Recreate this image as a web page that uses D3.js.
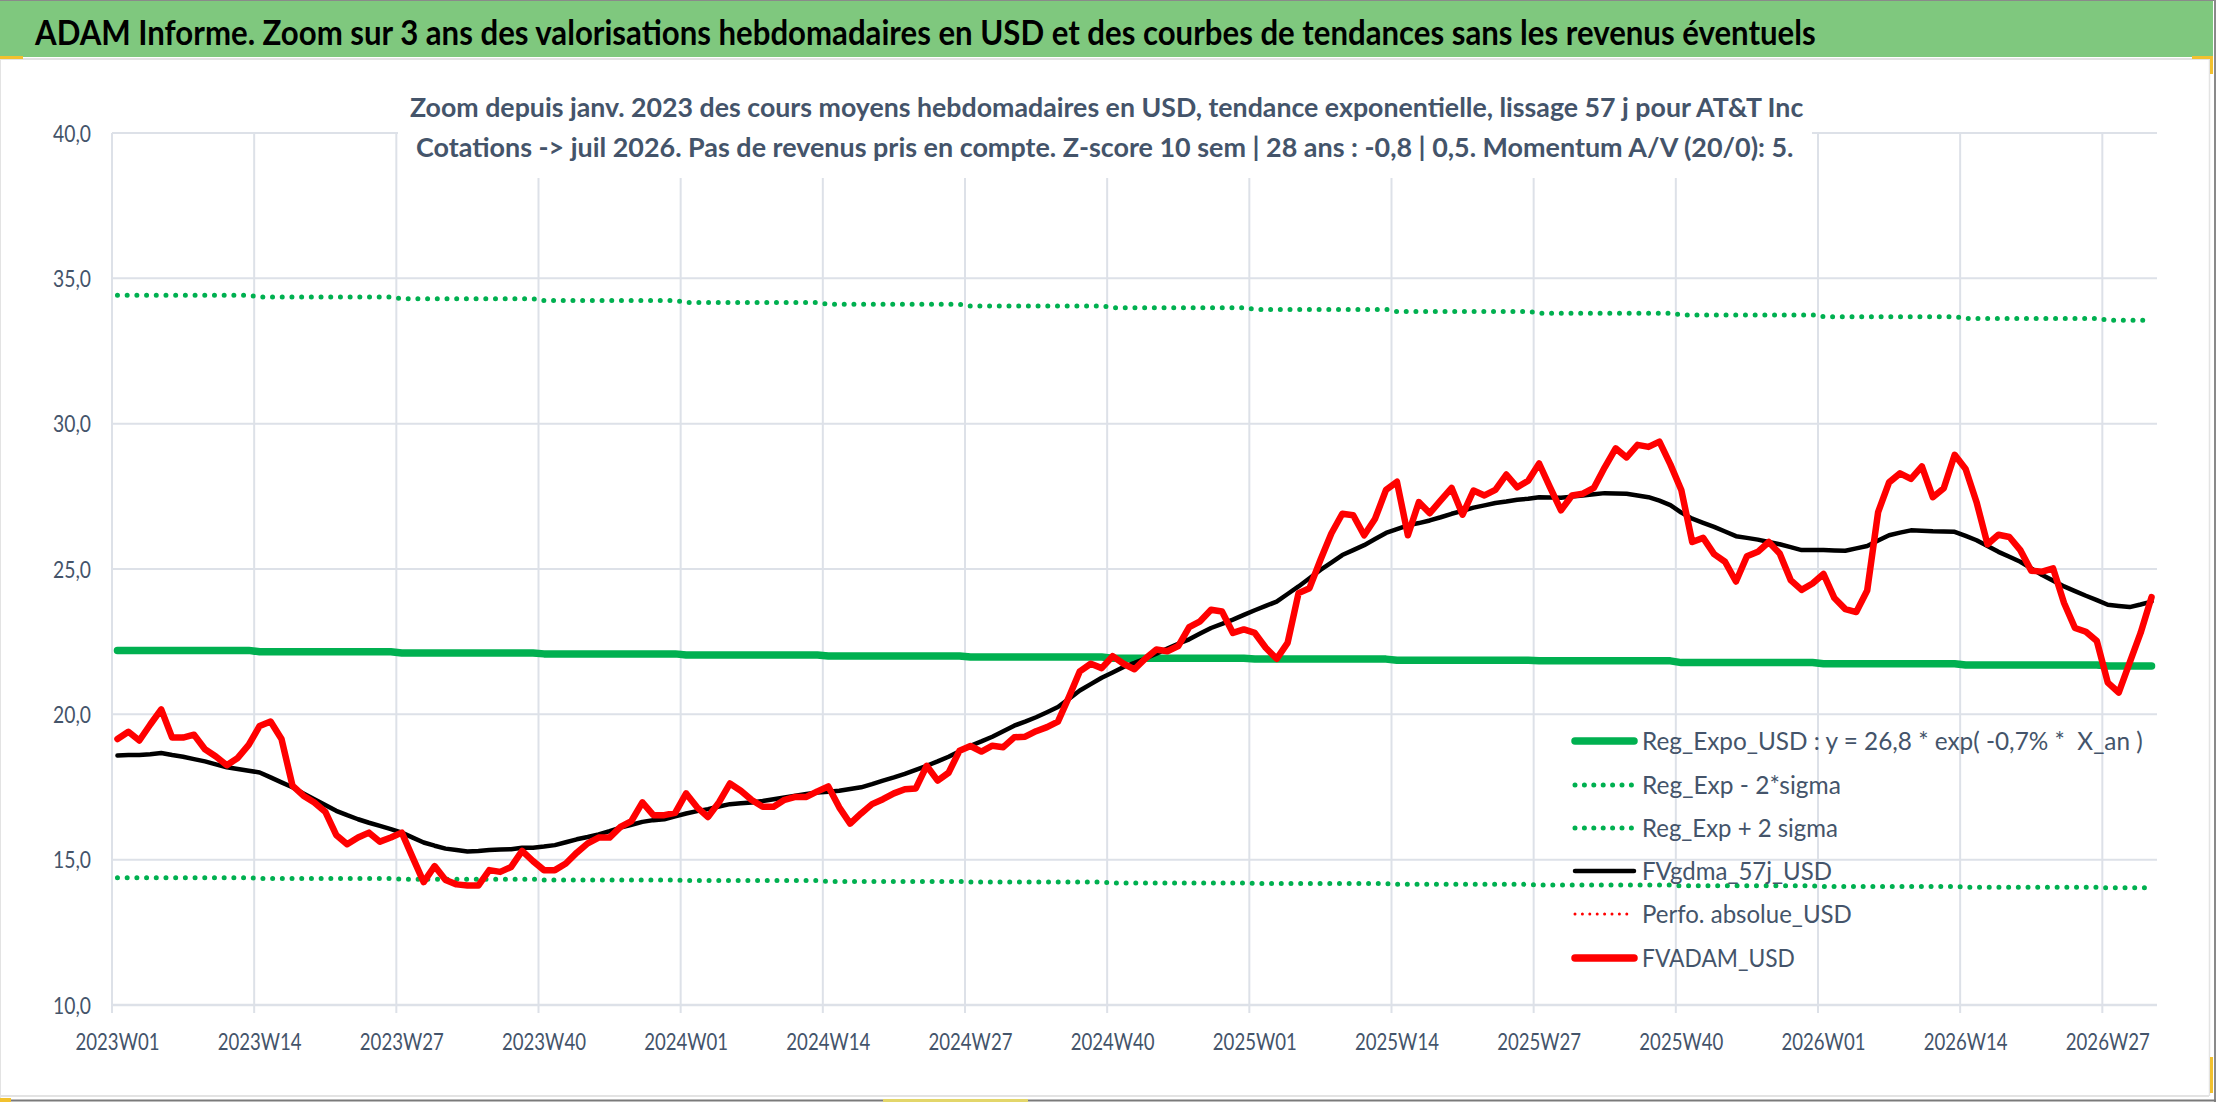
<!DOCTYPE html>
<html><head><meta charset="utf-8">
<script src="https://cdn.jsdelivr.net/npm/d3@7"></script>
<style>
html,body{margin:0;padding:0;background:#fff;overflow:hidden}
svg{display:block}
</style></head><body>
<svg id="chart" width="2216" height="1102"></svg>
<script>
// ---------- DATA ----------
const weekYears = [2023, 2024, 2025, 2026];
const weeksInYear = [52, 52, 52, 31];
const categories = [];
weekYears.forEach((yr, k) => { for (let w = 1; w <= weeksInYear[k]; w++) categories.push(yr + "W" + String(w).padStart(2, "0")); });

const tickLabels = ["2023W01","2023W14","2023W27","2023W40","2024W01","2024W14","2024W27","2024W40",
  "2025W01","2025W14","2025W27","2025W40","2026W01","2026W14","2026W27"];
const yTicks = [10, 15, 20, 25, 30, 35, 40];

// FVADAM_USD (weekly)
const fvadam = [
  19.15,19.4,19.1,19.65,20.17,19.2,19.2,19.3,18.8,18.55,
  18.25,18.5,18.95,19.6,19.75,19.15,17.55,17.2,16.97,16.65,
  15.85,15.53,15.76,15.93,15.62,15.76,15.93,15.07,14.23,14.78,
  14.3,14.15,14.11,14.11,14.64,14.58,14.75,15.3,14.95,14.64,
  14.64,14.87,15.24,15.56,15.76,15.76,16.13,16.33,16.97,16.53,
  16.53,16.61,17.28,16.8,16.47,16.97,17.62,17.37,17.05,16.82,
  16.82,17.06,17.16,17.16,17.35,17.52,16.8,16.24,16.59,16.91,
  17.08,17.28,17.42,17.45,18.23,17.72,17.99,18.75,18.91,18.72,
  18.92,18.87,19.21,19.23,19.42,19.56,19.75,20.59,21.48,21.74,
  21.59,22.0,21.74,21.55,21.92,22.23,22.17,22.35,23.0,23.2,
  23.6,23.54,22.8,22.92,22.8,22.29,21.91,22.46,24.17,24.34,
  25.31,26.22,26.9,26.85,26.16,26.73,27.72,28.0,26.16,27.3,
  26.92,27.36,27.79,26.87,27.7,27.53,27.72,28.25,27.81,28.04,
  28.63,27.81,27.02,27.53,27.59,27.79,28.5,29.15,28.84,29.27,
  29.2,29.38,28.6,27.72,25.93,26.07,25.51,25.25,24.57,25.44,
  25.59,25.93,25.53,24.62,24.28,24.5,24.83,24.0,23.62,23.52,
  24.26,26.96,27.98,28.29,28.1,28.53,27.47,27.78,28.93,28.44,
  27.3,25.85,26.18,26.1,25.65,24.94,24.91,25.02,23.83,22.97,
  22.84,22.52,21.09,20.75,21.78,22.8,24.03
];
// FVgdma_57j_USD (weekly)
const fvgdma = [
  18.58,18.6,18.6,18.63,18.67,18.6,18.54,18.46,18.38,18.28,
  18.18,18.12,18.06,18.0,17.83,17.66,17.49,17.28,17.08,16.88,
  16.68,16.53,16.39,16.27,16.16,16.05,15.93,15.76,15.59,15.48,
  15.38,15.33,15.28,15.3,15.33,15.35,15.36,15.41,15.41,15.45,
  15.5,15.6,15.7,15.78,15.87,15.98,16.1,16.2,16.3,16.36,
  16.39,16.49,16.59,16.67,16.74,16.83,16.91,16.94,16.97,17.02,
  17.08,17.14,17.2,17.26,17.31,17.34,17.37,17.43,17.49,17.6,
  17.72,17.83,17.95,18.09,18.23,18.38,18.54,18.73,18.92,19.07,
  19.23,19.42,19.61,19.75,19.9,20.07,20.25,20.53,20.82,21.04,
  21.26,21.44,21.63,21.77,21.92,22.09,22.26,22.43,22.58,22.78,
  22.97,23.11,23.26,23.42,23.58,23.73,23.88,24.14,24.4,24.68,
  24.97,25.22,25.48,25.65,25.82,26.03,26.24,26.37,26.5,26.58,
  26.67,26.78,26.9,27.0,27.11,27.19,27.27,27.32,27.38,27.42,
  27.47,27.46,27.45,27.49,27.53,27.57,27.61,27.6,27.59,27.53,
  27.47,27.35,27.2,26.94,26.73,26.59,26.45,26.29,26.13,26.07,
  26.01,25.93,25.85,25.75,25.65,25.65,25.65,25.64,25.63,25.71,
  25.79,25.98,26.16,26.25,26.33,26.32,26.3,26.29,26.28,26.14,
  25.99,25.79,25.59,25.42,25.25,25.02,24.79,24.6,24.4,24.24,
  24.08,23.93,23.77,23.73,23.69,23.78,23.88
];
// Regression curves, one value per 13-week block (15 blocks)
const regExpo  = [22.20,22.15,22.11,22.08,22.04,22.01,21.97,21.93,21.90,21.86,21.84,21.78,21.74,21.70,21.66];
const regMinus = [14.38,14.35,14.33,14.30,14.28,14.25,14.23,14.20,14.18,14.15,14.13,14.10,14.08,14.05,14.03];
const regPlus  = [34.42,34.36,34.30,34.24,34.17,34.11,34.05,33.99,33.93,33.86,33.80,33.74,33.68,33.62,33.56];
const perfoAbsolue = []; // not visible in the zoomed window

const legendLabels = ["Reg_Expo_USD : y = 26,8 * exp( -0,7% *  X_an )","Reg_Exp - 2*sigma","Reg_Exp + 2 sigma",
  "FVgdma_57j_USD","Perfo. absolue_USD","FVADAM_USD"];
const titleText = "ADAM Informe. Zoom sur 3 ans des valorisations hebdomadaires en USD et des courbes de tendances sans les revenus éventuels";
const subTitle1 = "Zoom depuis janv. 2023 des cours moyens hebdomadaires en USD, tendance exponentielle, lissage 57 j pour AT&T Inc";
const subTitle2 = "Cotations -> juil 2026. Pas de revenus pris en compte. Z-score 10 sem | 28 ans : -0,8 | 0,5. Momentum A/V (20/0): 5.";

// ---------- DRAW ----------
const FONT = "Lato,'Open Sans','Liberation Sans',sans-serif";
const TXT = "#44546A";
const GRID = "#DDE1E8";
const svg = d3.select("#chart");
const L = 112, R = 2157, T = 133, B = 1005;

const x = d3.scaleBand().domain(categories).range([L, R]).padding(0);
const y = d3.scaleLinear().domain([10, 40]).range([B, T]);
const cx = c => x(c) + x.bandwidth() / 2;

// helper: text placed at (px,py) and squeezed horizontally to a target width
function fitText(parent, str, px, py, width, size, weight, fill, anchor) {
  const t = parent.append("text").attr("x",0).attr("y",0).attr("font-family",FONT)
    .attr("font-size",size).attr("font-weight",weight).attr("fill",fill)
    .attr("text-anchor",anchor).style("white-space","pre").text(str);
  const nat = t.node().getComputedTextLength() || width;
  t.attr("transform",`translate(${px},${py}) scale(${width/nat},1)`);
  return t;
}

// frame / header
svg.append("rect").attr("x",0).attr("y",0).attr("width",2216).attr("height",1102).attr("fill","#fff");
svg.append("rect").attr("x",0).attr("y",1).attr("width",2213).attr("height",56).attr("fill","#7FC87E");
svg.append("line").attr("x1",0).attr("x2",2216).attr("y1",0.5).attr("y2",0.5).attr("stroke","#8a8a8a");
svg.append("line").attr("x1",0).attr("x2",2209).attr("y1",59).attr("y2",59).attr("stroke","#e3e3e3").attr("stroke-width",2);
svg.append("line").attr("x1",2209.5).attr("x2",2209.5).attr("y1",59).attr("y2",1096).attr("stroke","#e3e3e3").attr("stroke-width",1.5);
svg.append("line").attr("x1",2215).attr("x2",2215).attr("y1",0).attr("y2",1102).attr("stroke","#8a8a8a").attr("stroke-width",2);
svg.append("line").attr("x1",0.5).attr("x2",0.5).attr("y1",57).attr("y2",1100).attr("stroke","#e3e3e3");
svg.append("line").attr("x1",0).attr("x2",2209).attr("y1",1096).attr("y2",1096).attr("stroke","#e3e3e3").attr("stroke-width",2);
svg.append("line").attr("x1",0).attr("x2",2216).attr("y1",1100.5).attr("y2",1100.5).attr("stroke","#7a7a7a").attr("stroke-width",2);
// selection handles
const yel = "#F2C12E";
svg.append("rect").attr("x",0).attr("y",56).attr("width",23).attr("height",3).attr("fill",yel);
svg.append("rect").attr("x",2192).attr("y",56).attr("width",21).attr("height",3).attr("fill",yel);
svg.append("rect").attr("x",2210).attr("y",56).attr("width",3).attr("height",18).attr("fill",yel);
svg.append("rect").attr("x",2210).attr("y",1057).attr("width",3).attr("height",36).attr("fill",yel);
svg.append("rect").attr("x",0).attr("y",1098).attr("width",11).attr("height",4).attr("fill",yel);
svg.append("rect").attr("x",883).attr("y",1099).attr("width",145).attr("height",3).attr("fill","#E3D66A");

fitText(svg, titleText, 35, 45, 1782, 35, "bold", "#000", "start");

// gridlines
const gridG = svg.append("g");
gridG.selectAll("line.h").data(yTicks).join("line").attr("class","h")
  .attr("x1",L).attr("x2",R).attr("y1",d=>y(d)).attr("y2",d=>y(d))
  .attr("stroke",GRID).attr("stroke-width",d=>d===10?2.6:2);
gridG.selectAll("line.v").data(tickLabels).join("line").attr("class","v")
  .attr("x1",d=>x(d)).attr("x2",d=>x(d)).attr("y1",T).attr("y2",B+8)
  .attr("stroke",GRID).attr("stroke-width",2);

// chart title box
svg.append("rect").attr("x",398).attr("y",62).attr("width",1414).attr("height",116).attr("fill","#fff");
fitText(svg, subTitle1, 410, 117, 1394, 26, "bold", TXT, "start");
fitText(svg, subTitle2, 416, 156.5, 1378, 26, "bold", TXT, "start");

// axes
const yAxis = svg.append("g").attr("transform",`translate(${L},0)`)
  .call(d3.axisLeft(y).tickValues(yTicks).tickSize(0).tickPadding(21).tickFormat(d=>d.toFixed(1).replace(".",",")));
yAxis.select(".domain").remove();
const yTxt = yAxis.selectAll("text").attr("font-family",FONT).attr("font-size",23).attr("fill",TXT).attr("dy","0.36em");
{
  const nat = yTxt.node().getComputedTextLength();
  const s = 38 / nat;
  yTxt.attr("x", -21 / s).attr("transform", `scale(${s},1)`);
}

const xAxis = svg.append("g").attr("transform",`translate(0,${B})`)
  .call(d3.axisBottom(x).tickValues(tickLabels).tickSize(0));
xAxis.select(".domain").remove();
const xTxt = xAxis.selectAll("text").attr("font-family",FONT).attr("font-size",24).attr("fill",TXT).attr("y",45).attr("dy",0);
{
  const nat = xTxt.node().getComputedTextLength();
  xTxt.attr("transform", `scale(${84 / nat},1)`);
}

// series
const blockPts = vals => {
  const pts = [];
  vals.forEach((v, k) => {
    const s = k * 13, e = Math.min(k * 13 + 12, categories.length - 1);
    pts.push([cx(categories[s]), y(v)]);
    pts.push([cx(categories[e]), y(v)]);
  });
  return pts;
};
const line = d3.line();
const weekly = vals => vals.map((v, i) => [cx(categories[i]), y(v)]);
const DOT = "0 9.7";
svg.append("path").attr("d", line(blockPts(regExpo))).attr("fill","none").attr("stroke","#00B050")
  .attr("stroke-width",7.5).attr("stroke-linecap","round").attr("stroke-linejoin","round");
svg.append("path").attr("d", line(blockPts(regMinus))).attr("fill","none").attr("stroke","#00B050")
  .attr("stroke-width",5).attr("stroke-linecap","round").attr("stroke-dasharray",DOT);
svg.append("path").attr("d", line(blockPts(regPlus))).attr("fill","none").attr("stroke","#00B050")
  .attr("stroke-width",5).attr("stroke-linecap","round").attr("stroke-dasharray",DOT);
svg.append("path").attr("d", line(weekly(fvgdma))).attr("fill","none").attr("stroke","#000")
  .attr("stroke-width",4.5).attr("stroke-linecap","round").attr("stroke-linejoin","round");
if (perfoAbsolue.length) svg.append("path").attr("d", line(weekly(perfoAbsolue))).attr("fill","none")
  .attr("stroke","#FF0000").attr("stroke-width",3).attr("stroke-dasharray","0 6").attr("stroke-linecap","round");
svg.append("path").attr("d", line(weekly(fvadam))).attr("fill","none").attr("stroke","#FF0000")
  .attr("stroke-width",6.5).attr("stroke-linecap","round").attr("stroke-linejoin","round");

// legend
const legStyles = [
  {c:"#00B050", w:7.5, dash:null},
  {c:"#00B050", w:5,   dash:"0 9.4"},
  {c:"#00B050", w:5,   dash:"0 9.4"},
  {c:"#000000", w:4.5, dash:null},
  {c:"#FF0000", w:3,   dash:"0 7.4"},
  {c:"#FF0000", w:7.5, dash:null}
];
const legW = [501,199,196,190,210,153];
const legRowY = [741,785,828,871,914,958];
const lg = svg.append("g");
legendLabels.forEach((lab, i) => {
  const s = legStyles[i];
  const ln = lg.append("line").attr("x1",1575).attr("x2",1634).attr("y1",legRowY[i]).attr("y2",legRowY[i])
    .attr("stroke",s.c).attr("stroke-width",s.w).attr("stroke-linecap","round");
  if (s.dash) ln.attr("stroke-dasharray",s.dash);
  fitText(lg, lab, 1642, legRowY[i] + 9, legW[i], 25.5, "normal", TXT, "start");
});
</script>
</body></html>
